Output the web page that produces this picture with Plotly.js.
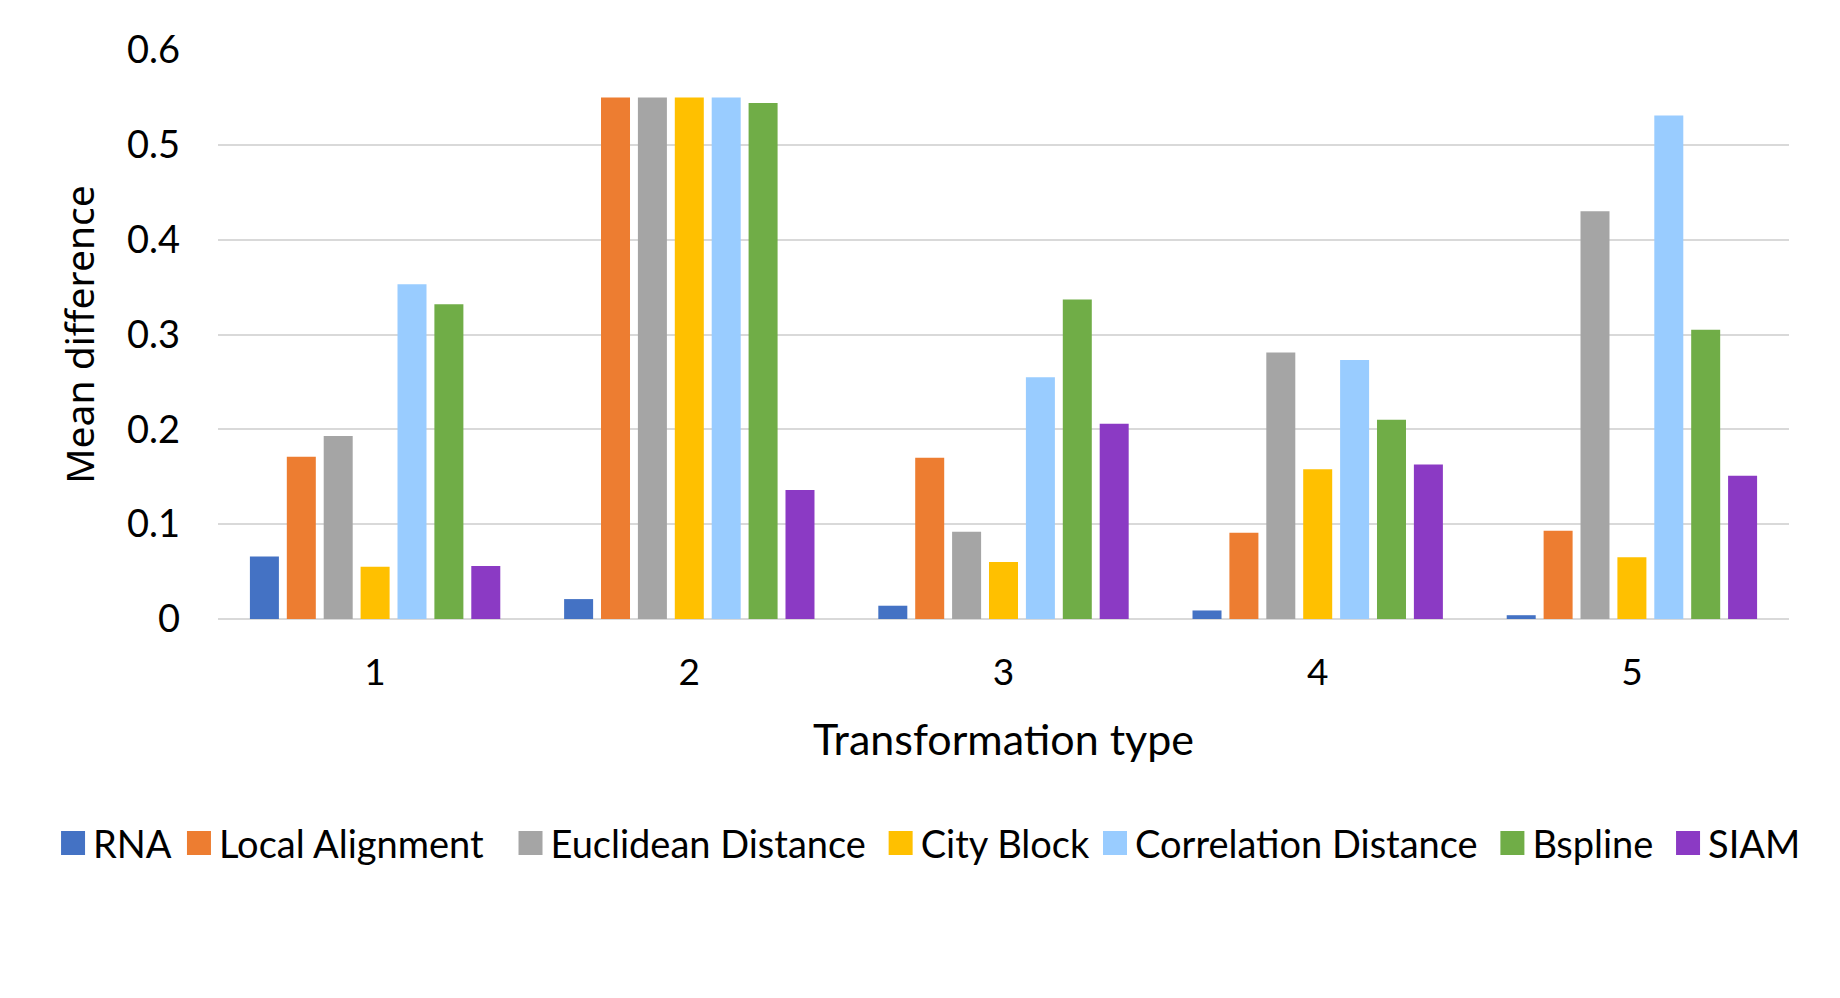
<!DOCTYPE html>
<html>
<head>
<meta charset="utf-8">
<script src="https://cdn.plot.ly/plotly-3.0.1.min.js"></script>
<style>html,body{margin:0;padding:0;background:#fff;}#chart{width:1840px;height:998px;}</style>
</head>
<body>
<div id="chart"></div>
<script>
var categories = ["1", "2", "3", "4", "5"];
var seriesNames = ["RNA", "Local Alignment", "Euclidean Distance", "City Block", "Correlation Distance", "Bspline", "SIAM"];
var rna = [0.066, 0.021, 0.014, 0.009, 0.004];
var localAlignment = [0.171, 0.550, 0.170, 0.091, 0.093];
var euclideanDistance = [0.193, 0.550, 0.092, 0.281, 0.430];
var cityBlock = [0.055, 0.550, 0.060, 0.158, 0.065];
var correlationDistance = [0.353, 0.550, 0.255, 0.273, 0.531];
var bspline = [0.332, 0.544, 0.337, 0.210, 0.305];
var siam = [0.056, 0.136, 0.206, 0.163, 0.151];
var yTickVals = [0, 0.1, 0.2, 0.3, 0.4, 0.5, 0.6];
var yTickText = ["0", "0.1", "0.2", "0.3", "0.4", "0.5", "0.6"];

var seriesValues = [rna, localAlignment, euclideanDistance, cityBlock, correlationDistance, bspline, siam];
var colors = ["#4472C4", "#ED7D31", "#A5A5A5", "#FFC000", "#99CCFF", "#70AD47", "#8B3AC4"];
// trailing spaces widen some legend entries like the original
var legendPad = ["\u200A", "\u00A0\u00A0\u200A", "\u00A0", "", "\u00A0", "\u00A0", ""];

var traces = seriesNames.map(function (name, i) {
  return {
    type: "bar",
    name: name + legendPad[i],
    x: categories,
    y: seriesValues[i],
    marker: { color: colors[i] },
    hovertemplate: name + ": %{y}<extra></extra>"
  };
});

var mainFont = "Lato, 'Open Sans', sans-serif";

var layout = {
  width: 1840,
  height: 998,
  paper_bgcolor: "#ffffff",
  plot_bgcolor: "#ffffff",
  margin: { l: 218, r: 51, t: 50, b: 379, autoexpand: false },
  barmode: "group",
  bargap: 0.178,
  bargroupgap: 0.214,
  font: { family: mainFont, color: "#000000", size: 37 },
  xaxis: {
    type: "category",
    tickfont: { family: mainFont, size: 37, color: "#000" },
    showgrid: false,
    showline: false,
    zeroline: false,
    ticks: "",
    ticklabelstandoff: 28,
    title: { text: "Transformation type", font: { family: mainFont, size: 43, color: "#000" }, standoff: 32 },
    automargin: false
  },
  yaxis: {
    range: [0, 0.6],
    tickvals: yTickVals,
    ticktext: yTickText,
    tickfont: { family: mainFont, size: 38, color: "#000" },
    showgrid: true,
    gridcolor: "#D9D9D9",
    gridwidth: 2,
    zeroline: true,
    zerolinecolor: "#D9D9D9",
    zerolinewidth: 2,
    showline: false,
    ticks: "",
    ticklabelstandoff: 37,
    title: { text: "Mean difference", font: { family: "'Noto Sans', 'Open Sans', sans-serif", size: 39, color: "#000" }, standoff: 20 },
    automargin: false,
    fixedrange: true
  },
  legend: {
    orientation: "h",
    x: -0.105,
    xanchor: "left",
    y: -0.394,
    yanchor: "middle",
    font: { family: mainFont, size: 38, color: "#000" },
    itemclick: false,
    traceorder: "normal",
    tracegroupgap: 0
  },
  showlegend: true
};

function enlargeLegendSquares() {
  var pts = document.querySelectorAll("#chart .legend .legendpoints path");
  pts.forEach(function (p) {
    var base = p.getAttribute("data-base-transform");
    if (base === null) {
      base = p.getAttribute("transform") || "";
      p.setAttribute("data-base-transform", base);
    }
    p.setAttribute("transform", base + " scale(2)");
  });
}

Plotly.newPlot("chart", traces, layout, { displayModeBar: false, responsive: false }).then(function (gd) {
  enlargeLegendSquares();
  gd.on("plotly_afterplot", enlargeLegendSquares);
});
</script>
</body>
</html>
